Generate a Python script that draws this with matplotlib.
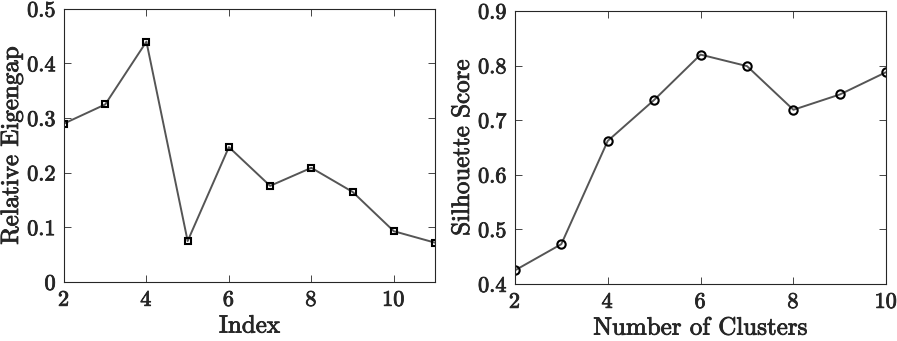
import matplotlib
matplotlib.use('Agg')
import matplotlib.pyplot as plt
import matplotlib.patheffects as pe

plt.rcParams['font.family'] = ['cmr10', 'DejaVu Serif']
plt.rcParams['mathtext.fontset'] = 'cm'
plt.rcParams['axes.formatter.use_mathtext'] = True
plt.rcParams['axes.unicode_minus'] = False

# eigengap data
idx = [2, 3, 4, 5, 6, 7, 8, 9, 10, 11]
eigengap = [0.290, 0.325, 0.440, 0.075, 0.247, 0.176, 0.209, 0.165, 0.093, 0.072]

# silhouette data
clusters = [2, 3, 4, 5, 6, 7, 8, 9, 10]
silhouette = [0.425, 0.473, 0.662, 0.737, 0.820, 0.799, 0.719, 0.747, 0.788]

axcol = '#262626'
linecol = '#555555'
heavy = [pe.withStroke(linewidth=0.6, foreground=axcol)]

fig = plt.figure(figsize=(8.97, 3.41), dpi=100)
ax1 = fig.add_axes([0.0713, 0.173, 0.4137, 0.801])
ax2 = fig.add_axes([0.574, 0.167, 0.414, 0.801])


def style(ax):
    for s in ax.spines.values():
        s.set_color(axcol)
        s.set_linewidth(0.8)
    ax.tick_params(direction='in', top=True, right=True, length=5, width=0.6,
                   colors=axcol, labelsize=16, labelcolor=axcol, pad=6)
    for t in ax.get_xticklabels() + ax.get_yticklabels():
        t.set_path_effects(heavy)
    ax.xaxis.label.set_path_effects(heavy)
    ax.yaxis.label.set_path_effects(heavy)


ax1.plot(idx, eigengap, '-', color=linecol, lw=1.4)
ax1.plot(idx, eigengap, 's', ms=5, mfc='none', mec='black', mew=1.5)
ax1.set_xlim(2, 11)
ax1.set_ylim(0, 0.5)
ax1.set_xticks([2, 4, 6, 8, 10])
ax1.set_yticks([0, 0.1, 0.2, 0.3, 0.4, 0.5])
ax1.set_yticklabels(['0', '0.1', '0.2', '0.3', '0.4', '0.5'])
ax1.set_xlabel('Index', fontsize=18, color=axcol, labelpad=4)
ax1.set_ylabel('Relative Eigengap', fontsize=18, color=axcol, labelpad=3)
style(ax1)

ax2.plot(clusters, silhouette, '-', color=linecol, lw=1.4)
ax2.plot(clusters, silhouette, 'o', ms=6, mfc='none', mec='black', mew=1.5)
ax2.set_xlim(2, 10)
ax2.set_ylim(0.4, 0.9)
ax2.set_xticks([2, 4, 6, 8, 10])
ax2.set_yticks([0.4, 0.5, 0.6, 0.7, 0.8, 0.9])
ax2.set_yticklabels(['0.4', '0.5', '0.6', '0.7', '0.8', '0.9'])
ax2.set_xlabel('Number of Clusters', fontsize=18, color=axcol, labelpad=4)
ax2.set_ylabel('Silhouette Score', fontsize=18, color=axcol, labelpad=3)
style(ax2)

fig.savefig('out.png', dpi=100)
